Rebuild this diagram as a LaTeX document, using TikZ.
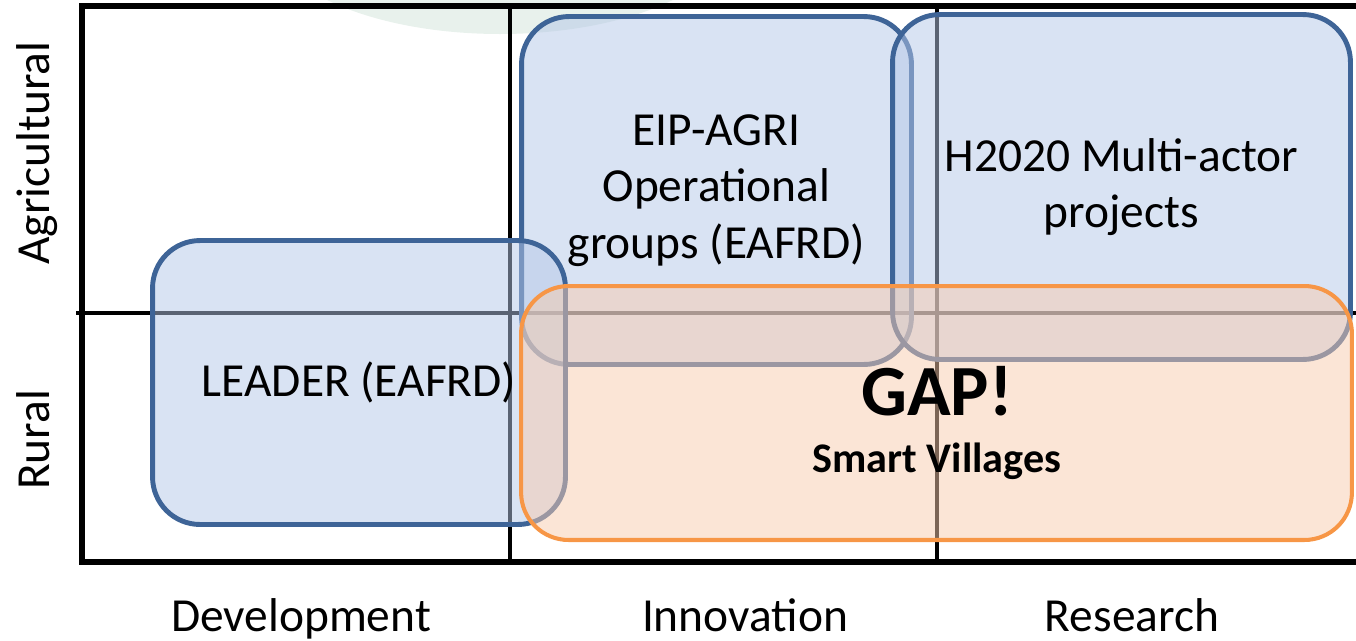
\documentclass[tikz,border=0pt]{standalone}
\usepackage{fontspec}
\setmainfont{Carlito}
\usetikzlibrary{positioning}
\definecolor{boxblue}{HTML}{B4C7E7}
\definecolor{lineblue}{HTML}{3E6497}
\definecolor{boxorange}{HTML}{F8CBAD}
\definecolor{lineorange}{HTML}{F79646}
\definecolor{logogreen}{HTML}{E8F1EC}
\tikzstyle{frame}=[line width=3pt]
\tikzstyle{divider}=[line width=2.3pt]
\tikzstyle{scheme}=[draw=lineblue,fill=boxblue,fill opacity=0.5,text opacity=1,line width=2.8pt,rounded corners=0.95cm,inner sep=0pt,align=center,font=\fontsize{27}{32}\selectfont]
\tikzstyle{gapbox}=[draw=lineorange,fill=boxorange,fill opacity=0.5,line width=2.3pt,rounded corners=0.95cm,inner sep=0pt]
\tikzstyle{axislabel}=[inner sep=0pt,font=\fontsize{27}{32}\selectfont]

\begin{document}
\begin{tikzpicture}[x=0.02cm,y=-0.02cm]
  \useasboundingbox (0,0) rectangle (1356,640);
  \clip (0,0) rectangle (1356,640);
  % faint logo behind the chart
  \fill[logogreen] (500,-66) ellipse [x radius=230, y radius=100];

  % the grid
  \draw[frame] (1362,6) -| (82,562) -- (1362,562);
  \draw[divider] (510,6) -- (510,562);
  \draw[divider] (937,6) -- (937,562);
  \draw[divider] (76,313) -- (1362,313);

  % funding schemes
  \node[scheme,minimum width=7.8cm,minimum height=6.96cm] (eip) at (716.5,190.5) {EIP-AGRI\\Operational\\groups (EAFRD)};
  \node[scheme,minimum width=9.16cm,minimum height=6.9cm] (h2020) at (1121.5,187) {H2020 Multi-actor\\projects};
  \node[scheme,minimum width=8.26cm,minimum height=5.68cm] (leader) at (359,382.5) {LEADER (EAFRD)};
  \node[gapbox,minimum width=16.62cm,minimum height=5.08cm] (gap) at (936.5,413) {};
  \node[inner sep=0pt,anchor=base,font=\fontsize{41}{48}\selectfont\bfseries] (gaptitle) at (937,415) {GAP!};
  \node[inner sep=0pt,font=\fontsize{24}{28}\selectfont\bfseries] (smart) [below=0.54cm of gaptitle] {Smart Villages};

  % axes
  \node[axislabel,rotate=90,anchor=base] (agri) at (50,153) {Agricultural};
  \node[axislabel,rotate=90,anchor=base] (rural) at (50,440) {Rural};
  \node[axislabel,anchor=base] (dev) at (301,631) {Development};
  \node[axislabel,anchor=base] (inno) at (745,631) {Innovation};
  \node[axislabel,anchor=base] (res) at (1132,631) {Research};
\end{tikzpicture}
\end{document}
